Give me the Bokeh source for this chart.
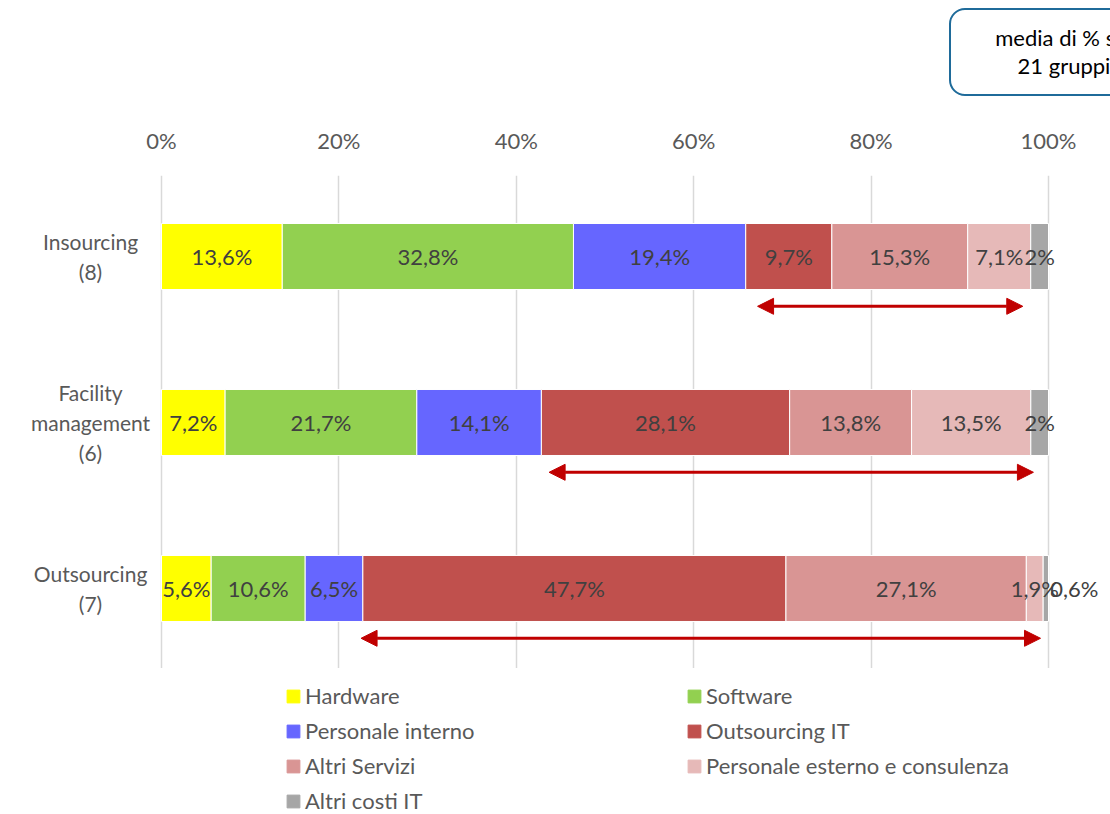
from bokeh.plotting import figure
from bokeh.layouts import column
from bokeh.models import (Range1d, Arrow, NormalHead, Legend, LegendItem,
                          ColumnDataSource, FixedTicker, Div)
from bokeh.core.properties import value
from bokeh.embed import file_html
from bokeh.resources import INLINE

# ---------------- data ----------------
categories = ["Insourcing (8)", "Facility management (6)", "Outsourcing (7)"]
category_labels = ["Insourcing\n(8)", "Facility\nmanagement\n(6)", "Outsourcing\n(7)"]
series = ["Hardware", "Software", "Personale interno", "Outsourcing IT",
          "Altri Servizi", "Personale esterno e consulenza", "Altri costi IT"]
hardware = [13.6, 7.2, 5.6]
software = [32.8, 21.7, 10.6]
personale_interno = [19.4, 14.1, 6.5]
outsourcing_it = [9.7, 28.1, 47.7]
altri_servizi = [15.3, 13.8, 27.1]
personale_esterno = [7.1, 13.5, 1.9]
altri_costi = [2.0, 2.0, 0.6]
series_values = [hardware, software, personale_interno, outsourcing_it,
                 altri_servizi, personale_esterno, altri_costi]
colors = ["#FFFF00", "#92D050", "#6666FF", "#C0504D", "#D99594", "#E6B9B8", "#A6A6A6"]
arrow_start = [67.2, 43.7, 22.5]
arrow_end = [97.1, 98.3, 99.1]
tick_values = [0, 20, 40, 60, 80, 100]
tick_labels = ["0%", "20%", "40%", "60%", "80%", "100%"]
note_lines = ["media di % sui", "21 gruppi"]

FONT = "Lato"
FS = "22px"
ypos = [2, 1, 0]

# ---------------- main chart ----------------
p = figure(width=1110, height=568, output_backend="svg", toolbar_location=None,
           x_range=Range1d(-161 / 8.87, 949 / 8.87), y_range=Range1d(-0.482, 2.488),
           x_axis_location="above", y_axis_location=None,
           min_border_left=0, min_border_right=0, min_border_top=75, min_border_bottom=0)
p.outline_line_color = None
p.background_fill_color = "white"
p.border_fill_color = "white"

ax = p.xaxis[0]
ax.ticker = FixedTicker(ticks=tick_values)
ax.major_label_overrides = {t: l for t, l in zip(tick_values, tick_labels)}
ax.axis_line_color = None
ax.major_tick_line_color = None
ax.minor_tick_line_color = None
ax.major_label_text_font = FONT
ax.major_label_text_font_size = FS
ax.major_label_text_color = "#595959"
ax.major_label_standoff = 16
p.xgrid.grid_line_color = "#D9D9D9"
p.xgrid.grid_line_width = 1.5
p.ygrid.visible = False

totals = [sum(s[i] for s in series_values) for i in range(3)]
left = [0.0, 0.0, 0.0]
lab_x, lab_y, lab_t, lab_align = [], [], [], []
for name, vals, col in zip(series, series_values, colors):
    share = [v / t * 100 for v, t in zip(vals, totals)]
    right = [l + s for l, s in zip(left, share)]
    src = ColumnDataSource(dict(y=ypos, left=left, right=right))
    p.hbar(y="y", left="left", right="right", height=66 / 166, source=src,
           fill_color=col, line_color="white", line_width=1)
    for i, v in enumerate(vals):
        txt = f"{v:g}".replace(".", ",") + "%"
        if v < 1:
            lab_x.append(right[i] + 0.2)
            lab_align.append("left")
        else:
            lab_x.append((left[i] + right[i]) / 2)
            lab_align.append("center")
        lab_y.append(ypos[i])
        lab_t.append(txt)
    left = right

p.text(x=lab_x, y=lab_y, text=lab_t, text_align=lab_align, text_baseline="middle",
       text_font=value(FONT), text_font_size=FS, text_color="#404040")

p.text(x=[-8.0] * 3, y=ypos, text=category_labels, text_align="center",
       text_baseline="middle", text_font=value(FONT), text_font_size="21px",
       text_color="#595959", text_line_height=1.19)

for i in range(3):
    head_kw = dict(size=16, fill_color="#C00000", line_color="#C00000")
    p.add_layout(Arrow(x_start=arrow_start[i], x_end=arrow_end[i],
                       y_start=ypos[i] - 0.3, y_end=ypos[i] - 0.3,
                       start=NormalHead(**head_kw), end=NormalHead(**head_kw),
                       line_color="#C00000", line_width=3))

# ---------------- legend strip ----------------
lg = figure(width=1110, height=146, output_backend="svg", toolbar_location=None,
            x_range=Range1d(0, 1), y_range=Range1d(0, 1),
            x_axis_location=None, y_axis_location=None,
            min_border_left=0, min_border_right=0, min_border_top=0, min_border_bottom=0)
lg.outline_line_color = None
lg.grid.visible = False
legend_renderers = {}
for name, col in zip(series, colors):
    # zero-size proxy outside the visible range: only used for the legend swatch
    r = lg.hbar(y=[-1], left=[0], right=[0], height=0.1, fill_color=col,
                line_color=col, line_width=1)
    legend_renderers[name] = r
# column-major legend: 4 rows, 2 columns -> reorder to read row by row
order = [series[i] for i in range(0, len(series), 2)] + [series[i] for i in range(1, len(series), 2)]
items = [LegendItem(label=n, renderers=[legend_renderers[n]]) for n in order]

legend = Legend(items=items, ncols=2, location=(285, 0), padding=0, margin=0, spacing=8,
                glyph_width=16, glyph_height=16, label_standoff=4,
                label_width=373, label_height=24,
                label_text_font=FONT, label_text_font_size=FS,
                label_text_color="#595959", border_line_color=None,
                background_fill_alpha=0)
lg.add_layout(legend, "center")

# ---------------- note box ----------------
note_html = (
    '<div style="margin-left:949px; margin-top:8px; width:230px; height:88px; '
    'box-sizing:border-box; border:2px solid #1F6B9A; border-radius:16px; '
    'display:flex; flex-direction:column; justify-content:center; align-items:center; '
    'font-family:Lato; font-size:22px; line-height:28px; color:#000000; background:white;">'
    + "".join(f"<div>{t}</div>" for t in note_lines) + "</div>"
)
note = Div(text=note_html, width=1110, height=100, margin=0,
           styles={"overflow": "hidden"})

layout = column(note, p, lg, spacing=0, margin=0)
open("out.html", "w").write(file_html(layout, INLINE))
